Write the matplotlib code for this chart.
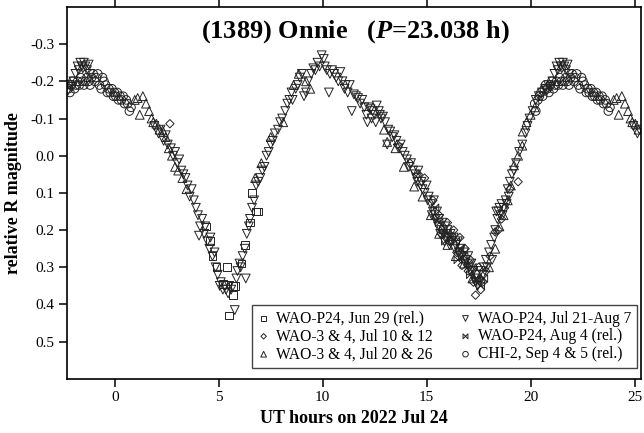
import numpy as np
import matplotlib
matplotlib.use('Agg')
import matplotlib.pyplot as plt
from matplotlib.path import Path

plt.rcParams['font.family'] = 'Liberation Serif'
plt.rcParams['mathtext.fontset'] = 'custom'
plt.rcParams['mathtext.bfit'] = 'Liberation Serif:italic:bold'
plt.rcParams['mathtext.rm'] = 'Liberation Serif:bold'

# Rotation period (h)
P = 23.038

# WAO-P24, Jun 29 (rel.)
sq_x = [4.40, 4.57, 4.70, 4.90, 5.20, 5.40, 5.50, 5.70, 5.70, 5.77, 6.10, 6.25,
        6.50, 6.60, 6.80, 6.90]
sq_y = [0.19, 0.23, 0.27, 0.30, 0.345, 0.30, 0.43, 0.35, 0.375, 0.35, 0.29, 0.24,
        0.18, 0.10, 0.15, 0.15]

# WAO-3 & 4, Jul 10 & 12
di_x = [2.65, 13.6, 14.2, 14.6, 14.9, 15.3, 15.6, 15.7, 16.0, 16.1, 16.3, 16.45,
        16.6, 16.7, 16.85, 17.0, 17.1, 17.25, 17.35, 17.5, 17.6, 17.7, 17.85,
        18.05, 18.3, 18.45, 18.6, 18.75, 19.0, 19.4]
di_y = [-0.086, -0.03, 0.02, 0.05, 0.06, 0.12, 0.16, 0.21, 0.18, 0.23, 0.20, 0.26,
        0.22, 0.295, 0.25, 0.31, 0.28, 0.34, 0.375, 0.30, 0.36, 0.34, 0.31,
        0.27, 0.205, 0.20, 0.17, 0.14, 0.09, 0.07]

# WAO-3 & 4, Jul 20 & 26
tu_x = [0.96, 1.10, 1.20, 1.35, 1.50, 1.65, 1.77, 1.85, 2.00, 2.15, 2.30, 2.45,
        2.60, 2.75, 2.90, 3.05, 3.25, 3.45, 6.75, 7.05, 7.50, 8.10, 8.60, 8.85,
        9.20, 9.40, 12.95, 13.10, 13.50, 13.90, 14.40, 14.80, 15.20, 15.60,
        16.00, 16.40, 16.80, 17.20, 17.60, 18.00, 18.30, 18.50, 18.70, 18.90,
        19.05, 19.20, 19.40, 19.60, 19.62, 19.80, 20.00, 20.20]
tu_y = [-0.15, -0.155, -0.11, -0.16, -0.14, -0.12, -0.10, -0.09, -0.086, -0.07,
        -0.068, -0.05, -0.02, 0.00, 0.03, 0.04, 0.06, 0.09, 0.06, 0.02, -0.05,
        -0.09, -0.19, -0.22, -0.20, -0.18, -0.07, -0.037, -0.02, 0.03, 0.083,
        0.11, 0.16, 0.21, 0.24, 0.27, 0.29, 0.33, 0.33, 0.30, 0.25, 0.19, 0.16,
        0.12, 0.08, 0.026, 0.00, -0.027, -0.065, -0.09, -0.11, -0.13]

# WAO-P24, Jul 21-Aug 7
td_x = [21.15, 21.25, 21.30, 21.38, 21.45, 21.50, 21.55, 21.62, 21.70, 21.78,
        21.85, 20.97, 20.78,
        1.90, 2.10, 2.20, 2.35, 2.45, 2.55, 2.70, 2.80, 2.90, 3.00, 3.10, 3.20,
        3.30, 3.40, 3.50, 3.60, 3.70, 3.80, 3.90, 4.00, 4.05, 4.10, 4.20, 4.30,
        4.35, 4.45, 4.55, 4.60, 4.70, 4.80, 4.85, 4.95, 5.05, 5.10, 5.20, 5.30,
        5.35, 5.45, 5.50, 5.60, 5.77, 5.85, 5.90, 6.00, 6.05, 6.30, 6.15, 6.25,
        6.35, 6.45, 6.50, 6.60, 6.70, 6.80, 6.90, 7.00, 7.10, 7.20, 7.30, 7.40,
        7.50, 7.60, 7.70, 7.85, 7.95, 8.05, 8.20, 8.30, 8.40, 8.50, 8.55, 8.70,
        8.80, 8.90, 9.00, 9.10, 9.20, 9.30, 9.45, 9.55, 9.65, 9.75, 9.85, 9.95,
        10.05, 10.10, 10.20, 10.30, 10.35, 10.45, 10.55, 10.65, 10.75, 10.85,
        10.95, 11.05, 11.10, 11.20, 11.30, 11.40, 11.50, 11.60, 11.70, 11.80,
        11.90, 12.00, 12.10, 12.20, 12.30, 12.40, 12.50, 12.60, 12.70, 12.80,
        12.90, 13.00, 13.10, 13.15, 13.25, 13.35, 13.45, 13.55, 13.65, 13.75,
        13.85, 13.95, 14.05, 14.15, 14.25, 14.35, 14.45, 14.55, 14.60, 14.70,
        14.80, 14.90, 15.00, 15.05, 15.10, 15.20, 15.30, 15.35, 15.45, 15.50,
        15.55, 15.60, 15.70, 15.75, 15.80, 15.90, 16.00, 16.05, 16.15, 16.20,
        16.30, 16.40, 16.50, 16.55, 16.65, 16.70, 16.80, 16.90, 17.00, 17.05,
        17.15, 17.25, 17.30, 17.40, 17.45, 17.55, 17.60, 17.70, 17.75, 17.85,
        17.90, 18.00, 18.10, 18.15, 18.25, 18.30, 18.40, 18.45, 18.55, 18.60,
        18.70, 18.80, 18.90, 19.00, 19.10, 19.20, 19.30, 19.45, 19.60, 19.75,
        19.85, 19.95, 20.10, 20.25, 20.40, 20.55, 20.70, 20.85, 21.05,
        15.25, 15.40, 15.65, 15.85, 15.95, 16.10, 16.35, 16.60, 16.85, 17.10,
        17.35, 12.15, 12.35, 12.55, 12.75, 14.50, 14.75, 18.35, 18.50, 18.65,
        18.85, 18.95]
td_y = [-0.22, -0.24, -0.23, -0.25, -0.24, -0.235, -0.25, -0.24, -0.23, -0.245,
        -0.22, -0.185, -0.175,
        -0.08, -0.06, -0.07, -0.04, -0.055, -0.03, -0.02, 0.00, -0.01, 0.02, 0.01,
        0.04, 0.05, 0.06, 0.08, 0.11, 0.09, 0.12, 0.14, 0.16, 0.215, 0.19, 0.17,
        0.21, 0.19, 0.23, 0.25, 0.22, 0.27, 0.26, 0.30, 0.32, 0.35, 0.34, 0.36,
        0.35, 0.36, 0.37, 0.35, 0.36, 0.415, 0.33, 0.31, 0.29, 0.30, 0.33, 0.27,
        0.25, 0.21, 0.19, 0.17, 0.14, 0.12, 0.08, 0.07, 0.06, 0.04, 0.03, 0.00,
        -0.01, -0.03, -0.04, -0.06, -0.07, -0.09, -0.10, -0.12, -0.14, -0.15,
        -0.17, -0.15, -0.18, -0.19, -0.21, -0.22, -0.16, -0.17, -0.20, -0.22,
        -0.235, -0.23, -0.25, -0.24, -0.27, -0.26, -0.24, -0.23, -0.17, -0.22,
        -0.23, -0.22, -0.21, -0.20, -0.225, -0.20, -0.18, -0.19, -0.17, -0.19,
        -0.12, -0.165, -0.16, -0.155, -0.14, -0.15, -0.13, -0.11, -0.13, -0.125,
        -0.12, -0.11, -0.135, -0.12, -0.10, -0.105, -0.09, -0.03, -0.07, -0.065,
        -0.05, -0.055, -0.04, -0.02, -0.03, -0.01, 0.00, 0.01, 0.03, 0.02, 0.04,
        0.05, 0.07, 0.04, 0.08, 0.09, 0.10, 0.08, 0.12, 0.11, 0.13, 0.15, 0.12,
        0.17, 0.15, 0.19, 0.17, 0.20, 0.18, 0.21, 0.19, 0.20, 0.22, 0.21, 0.23,
        0.22, 0.24, 0.23, 0.26, 0.25, 0.27, 0.26, 0.28, 0.27, 0.30, 0.29, 0.31,
        0.33, 0.32, 0.35, 0.34, 0.31, 0.32, 0.30, 0.28, 0.30, 0.26, 0.24, 0.28,
        0.22, 0.20, 0.17, 0.15, 0.16, 0.13, 0.14, 0.12, 0.09, 0.07, 0.05, 0.04,
        0.02, -0.01, -0.03, -0.06, -0.08, -0.10, -0.12, -0.15, -0.16, -0.17,
        -0.18, -0.19, -0.20,
        0.16, 0.17, 0.21, 0.23, 0.22, 0.24, 0.25, 0.27, 0.29, 0.31, 0.34, -0.09,
        -0.10, -0.09, -0.11, 0.06, 0.07, 0.15, 0.14, 0.16, 0.13, 0.11]

# WAO-P24, Aug 4 (rel.)
bt_x = [15.4, 15.6, 15.8, 15.9, 16.0, 16.2, 16.4, 16.5, 16.6, 16.8, 17.0, 17.1,
        17.2, 17.4, 17.6, 17.75]
bt_y = [0.14, 0.18, 0.20, 0.23, 0.21, 0.22, 0.23, 0.28, 0.25, 0.27, 0.29, 0.32,
        0.30, 0.33, 0.35, 0.33]

# CHI-2, Sep 4 & 5 (rel.)
ci_x = [20.20, 20.25, 20.35, 20.42, 20.50, 20.58, 20.66, 20.72, 20.80, 20.88,
        20.95, 21.02, 21.10, 21.18, 21.25, 21.33, 21.40, 21.48, 21.55, 21.62,
        21.70, 21.78, 21.85, 21.92, 22.00, 22.08, 22.15, 22.22, 22.30, 22.38,
        22.45, 22.52, 22.60, 22.68, 22.75, 22.82, 22.90, 22.97, 23.02, 0.05,
        0.12, 0.18, 0.25, 0.32, 0.40, 0.47, 0.55, 0.62, 0.70, 0.78]
ci_y = [-0.14, -0.12, -0.15, -0.16, -0.17, -0.16, -0.18, -0.19, -0.18, -0.17,
        -0.19, -0.20, -0.18, -0.19, -0.20, -0.19, -0.21, -0.20, -0.19, -0.20,
        -0.21, -0.20, -0.19, -0.21, -0.22, -0.20, -0.21, -0.22, -0.19, -0.18,
        -0.21, -0.20, -0.19, -0.17, -0.18, -0.17, -0.18, -0.16, -0.17, -0.16,
        -0.17, -0.15, -0.16, -0.15, -0.16, -0.14, -0.15, -0.14, -0.12, -0.13]

labels = ['WAO-P24, Jun 29 (rel.)', 'WAO-3 & 4, Jul 10 & 12',
          'WAO-3 & 4, Jul 20 & 26', 'WAO-P24, Jul 21-Aug 7',
          'WAO-P24, Aug 4 (rel.)', 'CHI-2, Sep 4 & 5 (rel.)']

xmin, xmax = -2.3, 25.3

bowtie = Path([(-1, 1), (-1, -1), (1, 1), (1, -1), (-1, 1)],
              [Path.MOVETO, Path.LINETO, Path.LINETO, Path.LINETO, Path.CLOSEPOLY])

series = [(sq_x, sq_y, 's', 30), (di_x, di_y, 'D', 18), (tu_x, tu_y, '^', 40),
          (td_x, td_y, 'v', 40), (bt_x, bt_y, bowtie, 30), (ci_x, ci_y, 'o', 38)]

fig = plt.figure(figsize=(6.44, 4.33), dpi=100)
ax = fig.add_axes([0.104, 0.125, 0.891, 0.859])

handles = []
for (sx, sy, m, s), lab in zip(series, labels):
    sx = np.array(sx)
    sy = np.array(sy)
    # phase-fold: repeat the curve one period left and right
    xx = np.concatenate([sx - P, sx, sx + P])
    yy = np.concatenate([sy, sy, sy])
    keep = (xx >= xmin) & (xx <= xmax)
    h = ax.scatter(xx[keep], yy[keep], s=s, marker=m, facecolors='none',
                   edgecolors='#222222', linewidths=0.7, label=lab)
    handles.append(h)

ax.set_xlim(xmin, xmax)
ax.set_ylim(0.6, -0.4)
ax.set_xticks([0, 5, 10, 15, 20, 25])
ax.set_yticks([-0.3, -0.2, -0.1, 0.0, 0.1, 0.2, 0.3, 0.4, 0.5])
ax.set_yticklabels(['-0.3', '-0.2', '-0.1', '0.0', '0.1', '0.2', '0.3', '0.4', '0.5'])
ax.tick_params(direction='out', length=6, width=1.1, labelsize=11, pad=3,
               top=True, right=False)
for sp in ax.spines.values():
    sp.set_linewidth(1.2)

ax.set_xlabel('UT hours on 2022 Jul 24', fontsize=13, fontweight='bold', labelpad=4)
ax.set_ylabel('relative R magnitude', fontsize=13, fontweight='bold', labelpad=6)

ax.text(0.502, 0.935, r'(1389) Onnie   ($\mathbfit{P}$=23.038 h)',
        transform=ax.transAxes, ha='center', va='center', fontsize=19,
        fontweight='bold')

leg = ax.legend(handles=handles, ncol=2, loc='lower right',
                bbox_to_anchor=(0.993, 0.03), borderaxespad=0, fontsize=11.2,
                markerscale=0.65, handlelength=0.8, handletextpad=0.4,
                columnspacing=1.7, labelspacing=0.12, borderpad=0.35,
                fancybox=False, framealpha=1, edgecolor='#444444')
leg.get_frame().set_linewidth(1.0)

fig.savefig('out.png', dpi=100)
